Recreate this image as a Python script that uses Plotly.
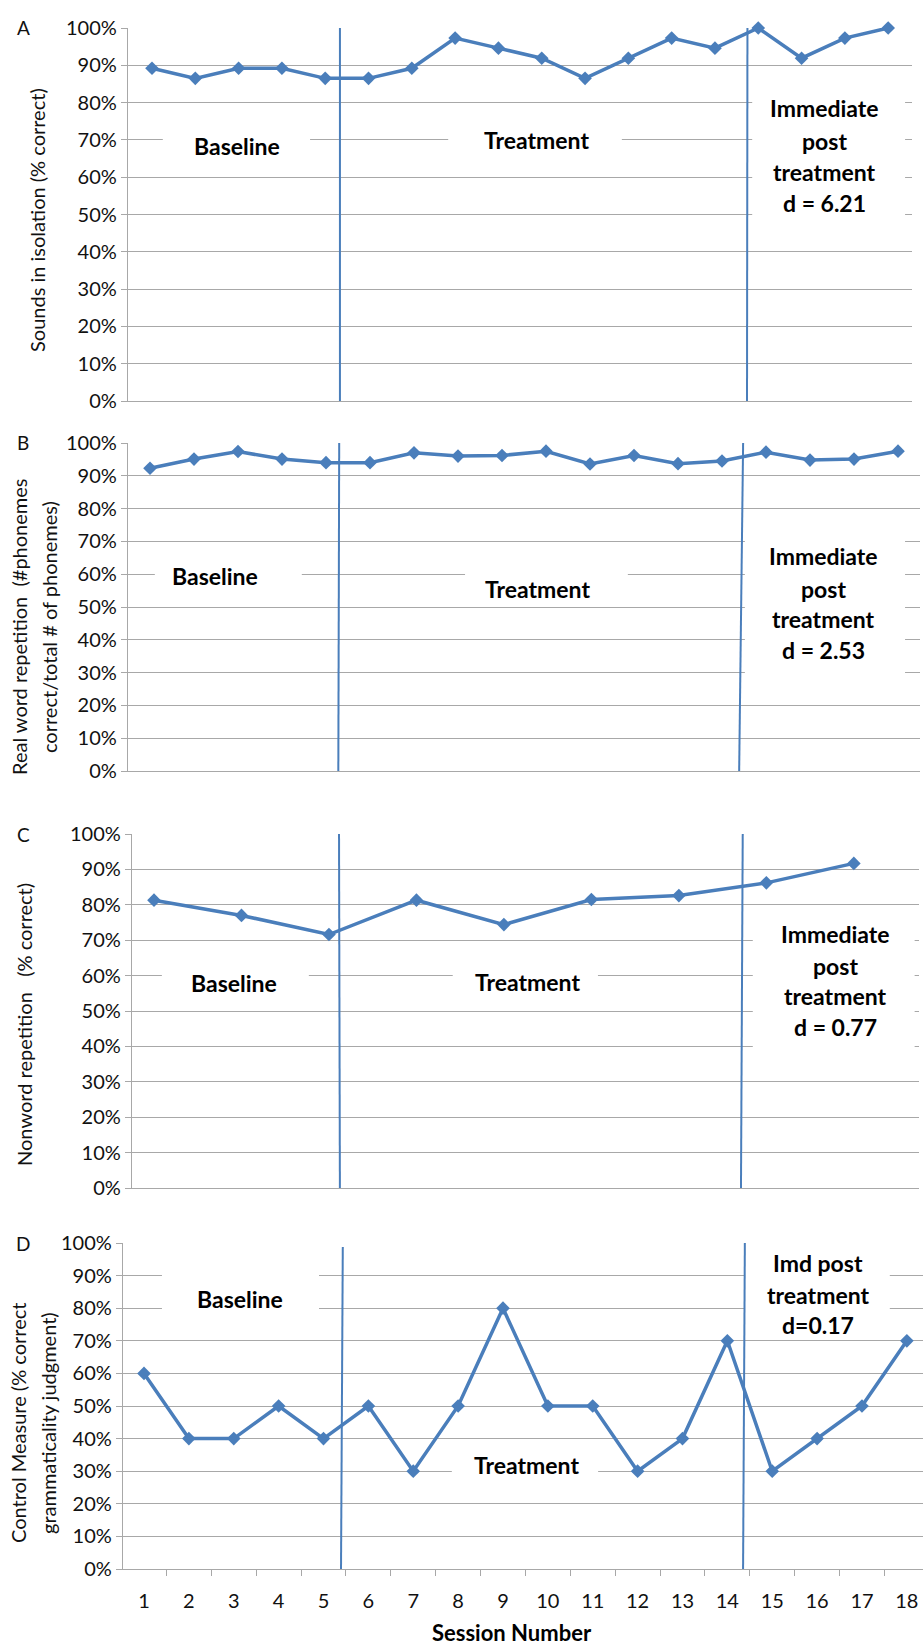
import plotly.graph_objects as go

# ---------------- data ----------------
sessions = list(range(1, 19))
sounds_isolation = [89.2, 86.5, 89.2, 89.2, 86.5, 86.5, 89.2, 97.3, 94.6, 91.9,
                    86.5, 91.9, 97.3, 94.6, 100.0, 91.9, 97.3, 100.0]
real_word = [92.3, 95.1, 97.4, 95.1, 94.0, 94.0, 97.0, 96.0, 96.2, 97.5,
             93.6, 96.2, 93.7, 94.5, 97.2, 94.8, 95.1, 97.5]
nonword_sessions = [1, 3, 5, 7, 9, 11, 13, 15, 17]
nonword = [81.3, 77.0, 71.6, 81.3, 74.4, 81.5, 82.6, 86.2, 91.7]
control = [60, 40, 40, 50, 40, 50, 30, 50, 80, 50, 50, 30, 40, 70, 30, 40, 50, 70]

y_ticks = list(range(0, 101, 10))
y_tick_labels = [f"{v}%" for v in y_ticks]
x_tick_labels = [str(s) for s in sessions]
x_minor_ticks = [s + 0.5 for s in sessions[:-1]]

# phase-change lines: (x at top, x at bottom, y top, y bottom)
phase_A = [(5.34, 5.34, 100, 0), (14.75, 14.74, 100, 0)]
phase_B = [(5.30, 5.28, 100, 0), (14.48, 14.39, 100, 0)]
phase_C = [(5.23, 5.25, 100, 0), (14.46, 14.42, 100, 0)]
phase_D = [(5.43, 5.39, 98.8, -1), (14.39, 14.35, 100, -1)]

y_titles = {
    "A": ["Sounds in isolation (% correct)"],
    "B": ["Real word repetition\u00a0\u00a0(#phonemes", "correct/total # of phonemes)"],
    "C": ["Nonword repetition\u00a0\u00a0\u00a0(% correct)"],
    "D": ["Control Measure (% correct", "grammaticality judgment)"],
}

# ---------------- styling / layout ----------------
W, H = 923, 1647
BLUE = "#4a7ebb"
GRID = "#a8a8a8"
FONT = "Lato, 'Open Sans', sans-serif"
TXT = "#111111"
LABEL_SIZE = 23

def px_x(p):
    return p / W

def px_y(p):
    return 1 - p / H

panels = [
    dict(key="A", left=128, right=912, top=28, bottom=401, xr=[0.446, 18.55],
         x=sessions, y=sounds_isolation, phase=phase_A,
         title_x=[37], title_y=220, letter_y=28),
    dict(key="B", left=128, right=920, top=443, bottom=771, xr=[0.5, 18.5],
         x=sessions, y=real_word, phase=phase_B,
         title_x=[19, 49], title_y=627, letter_y=443),
    dict(key="C", left=132, right=919, top=834, bottom=1188, xr=[0.497, 18.49],
         x=nonword_sessions, y=nonword, phase=phase_C,
         title_x=[24], title_y=1025, letter_y=834),
    dict(key="D", left=123, right=923, top=1243, bottom=1569, xr=[0.532, 18.36],
         x=sessions, y=control, phase=phase_D,
         title_x=[18, 48], title_y=1423, letter_y=1243),
]

labels = {
    "A": [(["Baseline"], 2.96, [68.4], (1.25, 4.65, 63.3, 73.5)),
          (["Treatment"], 9.89, [70.0], (7.84, 11.85, 64.6, 74.0)),
          (["Immediate", "post", "treatment", "d = 6.21"], 16.52,
           [78.6, 69.7, 61.4, 53.1], (14.86, 18.39, 45.3, 84.7))],
    "B": [(["Baseline"], 2.48, [59.5], (1.11, 4.45, 53.7, 64.3)),
          (["Treatment"], 9.8, [55.5], (8.16, 11.86, 51.2, 63.7)),
          (["Immediate", "post", "treatment", "d = 2.53"], 16.3,
           [65.5, 55.5, 46.3, 36.9], (14.52, 18.16, 24.7, 75.0))],
    "C": [(["Baseline"], 2.83, [57.9], (1.18, 4.54, 53.1, 63.8)),
          (["Treatment"], 9.53, [58.2], (7.83, 11.15, 53.1, 63.8)),
          (["Immediate", "post", "treatment", "d = 0.77"], 16.59,
           [71.8, 62.7, 54.2, 45.5], (14.69, 18.39, 34.7, 77.1))],
    "D": [(["Baseline"], 3.14, [82.8], (1.4, 4.9, 76.4, 93.3)),
          (["Treatment"], 9.53, [31.9], (7.86, 11.12, 25.8, 35.9)),
          (["Imd post", "treatment", "d=0.17"], 16.02,
           [93.9, 84.0, 74.8], (14.39, 17.62, 75.8, 103.4))],
}

fig = go.Figure()
shapes = []
annotations = []
layout_axes = {}

for i, p in enumerate(panels):
    n = "" if i == 0 else str(i + 1)
    xa, ya = f"x{n}", f"y{n}"
    fig.add_trace(go.Scatter(
        x=p["x"], y=p["y"], xaxis=xa, yaxis=ya, mode="lines+markers",
        line=dict(color=BLUE, width=3.5),
        marker=dict(symbol="diamond", size=10.5, color=BLUE),
        cliponaxis=False, showlegend=False, connectgaps=True,
        hoverinfo="skip"))

    is_d = p["key"] == "D"
    xaxis = dict(
        domain=[px_x(p["left"]), px_x(p["right"])], range=p["xr"],
        anchor=ya, showgrid=False, zeroline=False, automargin=False,
        showline=True, linecolor=GRID, linewidth=1.3,
        showticklabels=is_d, ticks="",
        tickmode="array", tickvals=sessions, ticktext=x_tick_labels,
        tickfont=dict(family=FONT, size=20, color=TXT),
    )
    if is_d:
        xaxis["minor"] = dict(tickmode="array", tickvals=x_minor_ticks,
                              ticks="outside", ticklen=6, tickcolor=GRID,
                              tickwidth=1.3, showgrid=False)
        xaxis["ticklabelstandoff"] = 14
    yaxis = dict(
        domain=[px_y(p["bottom"]), px_y(p["top"])], range=[0, 100],
        anchor=xa, tickmode="array", tickvals=y_ticks, ticktext=y_tick_labels,
        showgrid=True, gridcolor=GRID, gridwidth=1.3, zeroline=False,
        automargin=False,
        showline=True, linecolor=GRID, linewidth=1.3,
        ticks="outside", ticklen=6, tickcolor=GRID, tickwidth=1.3,
        tickfont=dict(family=FONT, size=20, color=TXT),
    )
    layout_axes["xaxis" + n] = xaxis
    layout_axes["yaxis" + n] = yaxis

    # white label boxes (between grid and traces)
    for lines, lx, lys, (bx0, bx1, by0, by1) in labels[p["key"]]:
        shapes.append(dict(type="rect", xref=xa, yref=ya, x0=bx0, x1=bx1,
                           y0=by0, y1=by1, fillcolor="white",
                           line=dict(width=0), layer="between"))
        for t, ly in zip(lines, lys):
            annotations.append(dict(text=t, x=lx, y=ly, xref=xa, yref=ya,
                                    showarrow=False, xanchor="center",
                                    yanchor="middle",
                                    font=dict(family=FONT, size=LABEL_SIZE,
                                              color="#000", weight="bold")))
    # phase lines
    for xt, xb, yt, yb in p["phase"]:
        shapes.append(dict(type="line", xref=xa, yref=ya, x0=xb, x1=xt,
                           y0=yb, y1=yt, line=dict(color=BLUE, width=2),
                           layer="above"))

    # panel letter
    annotations.append(dict(text=p["key"], x=px_x(23), y=px_y(p["letter_y"]),
                            xref="paper", yref="paper", showarrow=False,
                            xanchor="center", yanchor="middle",
                            font=dict(family=FONT, size=19, color=TXT)))
    # y-axis titles
    for t, tx in zip(y_titles[p["key"]], p["title_x"]):
        annotations.append(dict(text=t, x=px_x(tx), y=px_y(p["title_y"]),
                                xref="paper", yref="paper", showarrow=False,
                                textangle=-90, xanchor="center",
                                yanchor="middle",
                                font=dict(family=FONT, size=20, color=TXT)))

annotations.append(dict(text="Session Number", x=px_x(512), y=px_y(1632),
                        xref="paper", yref="paper", showarrow=False,
                        xanchor="center", yanchor="middle",
                        font=dict(family=FONT, size=22, color="#000",
                                  weight="bold")))

fig.update_layout(
    width=W, height=H, margin=dict(l=0, r=0, t=0, b=0, autoexpand=False),
    paper_bgcolor="white", plot_bgcolor="white",
    font=dict(family=FONT, color=TXT),
    shapes=shapes, annotations=annotations, showlegend=False,
    **layout_axes,
)

fig.write_html("out.html",
               config={"displayModeBar": False},
               post_script="document.body.style.margin='0';"
                           "document.body.style.overflow='hidden';")
